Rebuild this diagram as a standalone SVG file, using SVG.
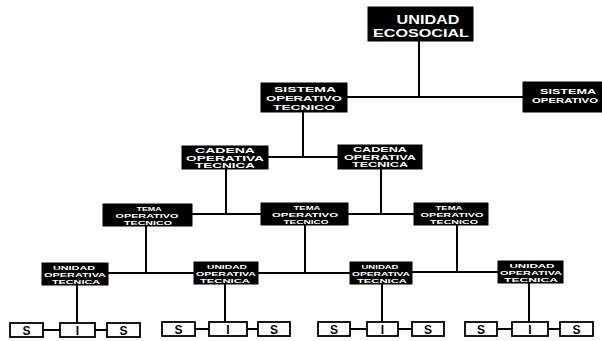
<svg xmlns="http://www.w3.org/2000/svg" width="602" height="341" viewBox="0 0 602 341">
<style>
.bk{fill:#000;stroke:#000;stroke-width:1}
.wt{fill:#fff;stroke:#000;stroke-width:1.8}
.c{stroke:#000;stroke-width:2;fill:none}
.l{font-family:"Liberation Sans",Arial,sans-serif;font-weight:bold;font-size:6px;fill:#fff;text-anchor:middle}
.m{font-size:6.5px}
.b{font-size:7.5px}
.t{font-family:"Liberation Sans",Arial,sans-serif;font-weight:bold;fill:#fff;text-anchor:middle}
.s{font-family:"Liberation Sans",Arial,sans-serif;font-weight:bold;font-size:12px;fill:#000;text-anchor:middle}
</style>
<rect width="602" height="341" fill="#fff"/>
<g id="connectors">
<path class="c" d="M419 41V97M347 97H523"/>
<path class="c" d="M303 112V157M268 157H338"/>
<path class="c" d="M226 169V214M381 169V214M192 214H261M348 214H414"/>
<path class="c" d="M146 226V273M305 225V273M457 225V272M108 273H194M258 273H350M412 272H498"/>
<path class="c" d="M77 285V323M225 284V322M382 284V322M529 283V322"/>
<path class="c" d="M43 330H60M95 330H107M195 329H209M247 329H258M350 329H367M398 329H412M497 329H512M548 329H560"/>
</g>
<g id="n-unidad-ecosocial">
<rect class="bk" x="368" y="7" width="105" height="34"/>
<text class="t" x="428" y="23.5" font-size="12" textLength="63" lengthAdjust="spacingAndGlyphs">UNIDAD</text>
<text class="t" x="421" y="37" font-size="11" textLength="96" lengthAdjust="spacingAndGlyphs">ECOSOCIAL</text>
</g>
<g id="n-sistema-1">
<rect class="bk" x="261" y="83" width="86" height="29"/>
<text class="l b" x="305" y="92" textLength="62" lengthAdjust="spacingAndGlyphs">SISTEMA</text>
<text class="l b" x="304" y="101" textLength="76" lengthAdjust="spacingAndGlyphs">OPERATIVO</text>
<text class="l b" x="304" y="110" textLength="62" lengthAdjust="spacingAndGlyphs">TECNICO</text>
</g>
<g id="n-sistema-2">
<rect class="bk" x="523" y="82" width="80" height="30"/>
<text class="l b" x="568" y="94" textLength="56" lengthAdjust="spacingAndGlyphs">SISTEMA</text>
<text class="l b" x="565" y="103" textLength="66" lengthAdjust="spacingAndGlyphs">OPERATIVO</text>
</g>
<g id="n-cadena-1">
<rect class="bk" x="182" y="146" width="86" height="23"/>
<text class="l m" x="225" y="153" textLength="60" lengthAdjust="spacingAndGlyphs">CADENA</text>
<text class="l m" x="225" y="160.5" textLength="78" lengthAdjust="spacingAndGlyphs">OPERATIVA</text>
<text class="l m" x="225" y="168" textLength="60" lengthAdjust="spacingAndGlyphs">TECNICA</text>
</g>
<g id="n-cadena-2">
<rect class="bk" x="338" y="145" width="84" height="24"/>
<text class="l m" x="380" y="152" textLength="54" lengthAdjust="spacingAndGlyphs">CADENA</text>
<text class="l m" x="380" y="159.5" textLength="72" lengthAdjust="spacingAndGlyphs">OPERATIVA</text>
<text class="l m" x="380" y="167" textLength="56" lengthAdjust="spacingAndGlyphs">TECNICA</text>
</g>
<g id="n-tema-1">
<rect class="bk" x="103" y="204" width="89" height="22"/>
<text class="l" x="149" y="210.5" textLength="25" lengthAdjust="spacingAndGlyphs">TEMA</text>
<text class="l" x="147" y="217.5" textLength="63" lengthAdjust="spacingAndGlyphs">OPERATIVO</text>
<text class="l" x="148" y="224.5" textLength="48" lengthAdjust="spacingAndGlyphs">TECNICO</text>
</g>
<g id="n-tema-2">
<rect class="bk" x="261" y="203" width="87" height="22"/>
<text class="l" x="307" y="209.5" textLength="27" lengthAdjust="spacingAndGlyphs">TEMA</text>
<text class="l" x="305" y="216.5" textLength="66" lengthAdjust="spacingAndGlyphs">OPERATIVO</text>
<text class="l" x="306" y="223.5" textLength="45" lengthAdjust="spacingAndGlyphs">TECNICO</text>
</g>
<g id="n-tema-3">
<rect class="bk" x="414" y="203" width="74" height="22"/>
<text class="l" x="449" y="209.5" textLength="27" lengthAdjust="spacingAndGlyphs">TEMA</text>
<text class="l" x="452" y="216.5" textLength="63" lengthAdjust="spacingAndGlyphs">OPERATIVO</text>
<text class="l" x="454" y="223.5" textLength="48" lengthAdjust="spacingAndGlyphs">TECNICO</text>
</g>
<g id="n-uot-1">
<rect class="bk" x="42" y="263" width="66" height="22"/>
<text class="l" x="74" y="269.5" textLength="42" lengthAdjust="spacingAndGlyphs">UNIDAD</text>
<text class="l" x="75" y="276.5" textLength="62" lengthAdjust="spacingAndGlyphs">OPERATIVA</text>
<text class="l" x="76" y="283.5" textLength="48" lengthAdjust="spacingAndGlyphs">TECNICA</text>
</g>
<g id="n-uot-2">
<rect class="bk" x="194" y="262" width="64" height="22"/>
<text class="l" x="227" y="268.5" textLength="40" lengthAdjust="spacingAndGlyphs">UNIDAD</text>
<text class="l" x="226" y="275.5" textLength="60" lengthAdjust="spacingAndGlyphs">OPERATIVA</text>
<text class="l" x="225" y="282.5" textLength="50" lengthAdjust="spacingAndGlyphs">TECNICA</text>
</g>
<g id="n-uot-3">
<rect class="bk" x="350" y="262" width="62" height="22"/>
<text class="l" x="380" y="268.5" textLength="37" lengthAdjust="spacingAndGlyphs">UNIDAD</text>
<text class="l" x="381" y="275.5" textLength="58" lengthAdjust="spacingAndGlyphs">OPERATIVA</text>
<text class="l" x="382" y="282.5" textLength="50" lengthAdjust="spacingAndGlyphs">TECNICA</text>
</g>
<g id="n-uot-4">
<rect class="bk" x="498" y="261" width="65" height="22"/>
<text class="l" x="532" y="267.5" textLength="45" lengthAdjust="spacingAndGlyphs">UNIDAD</text>
<text class="l" x="531" y="274.5" textLength="62" lengthAdjust="spacingAndGlyphs">OPERATIVA</text>
<text class="l" x="531" y="281.5" textLength="54" lengthAdjust="spacingAndGlyphs">TECNICA</text>
</g>
<g id="sis-1">
<rect class="wt" x="10" y="323" width="33" height="14"/><text class="s" x="26.5" y="334.5">S</text>
<rect class="wt" x="60" y="323" width="35" height="14"/><text class="s" x="77.5" y="334.5">I</text>
<rect class="wt" x="107" y="323" width="33" height="14"/><text class="s" x="123.5" y="334.5">S</text>
</g>
<g id="sis-2">
<rect class="wt" x="162" y="322" width="33" height="14"/><text class="s" x="178.5" y="333.5">S</text>
<rect class="wt" x="209" y="322" width="38" height="14"/><text class="s" x="228" y="333.5">I</text>
<rect class="wt" x="258" y="322" width="32" height="14"/><text class="s" x="274" y="333.5">S</text>
</g>
<g id="sis-3">
<rect class="wt" x="318" y="322" width="32" height="14"/><text class="s" x="334" y="333.5">S</text>
<rect class="wt" x="367" y="322" width="31" height="14"/><text class="s" x="382.5" y="333.5">I</text>
<rect class="wt" x="412" y="322" width="32" height="14"/><text class="s" x="428" y="333.5">S</text>
</g>
<g id="sis-4">
<rect class="wt" x="465" y="322" width="32" height="14"/><text class="s" x="481" y="333.5">S</text>
<rect class="wt" x="512" y="322" width="36" height="14"/><text class="s" x="530" y="333.5">I</text>
<rect class="wt" x="560" y="322" width="33" height="14"/><text class="s" x="576.5" y="333.5">S</text>
</g>
</svg>
